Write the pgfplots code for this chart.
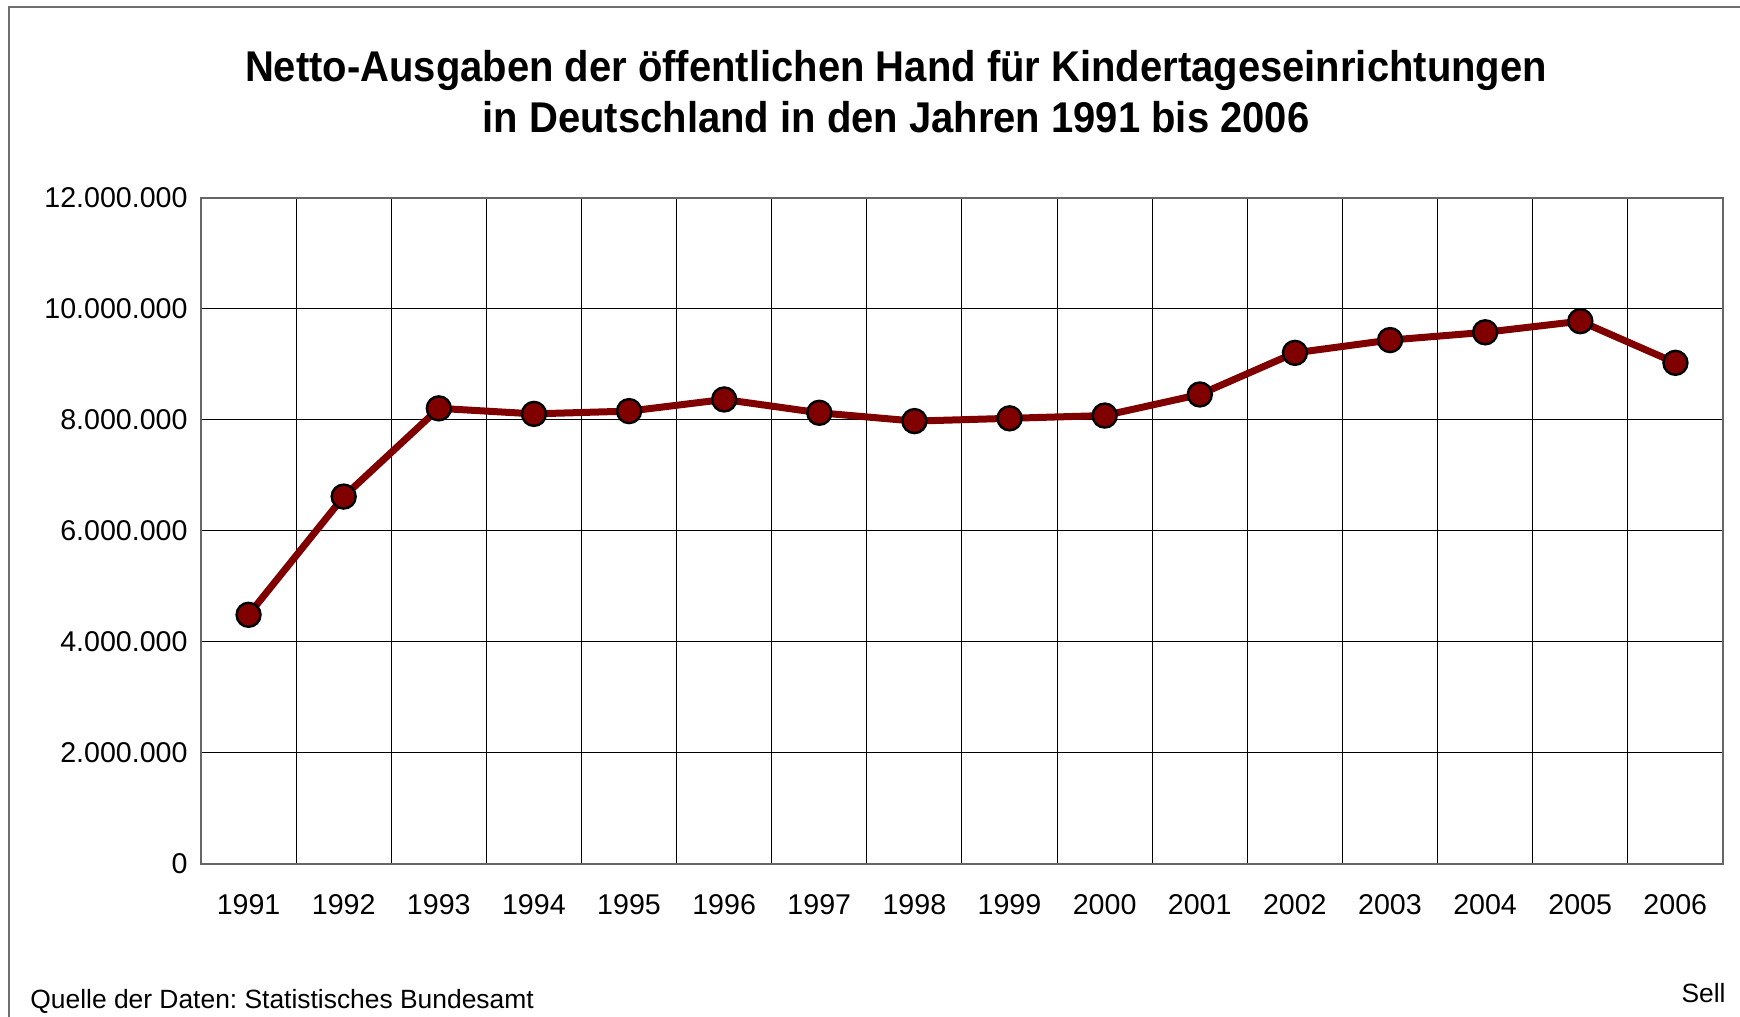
\documentclass[border=0pt]{standalone}
\usepackage{fontspec}
\setmainfont{Liberation Sans}
\usepackage{pgfplots}
\pgfplotsset{compat=1.18}
\definecolor{linered}{HTML}{800000}
\definecolor{framegray}{HTML}{6E6E6E}

\begin{document}
\frenchspacing
\begin{tikzpicture}
  % canvas: 1px of the reference = 0.5pt
  \path[use as bounding box] (0,0) rectangle (870pt,508.5pt);
  \draw[framegray, line width=0.8pt] (4.5pt,0) -- (4.5pt,505pt) -- (870pt,505pt);

  \node[anchor=base, font=\fontsize{21.5pt}{25pt}\selectfont\bfseries]
    at (448pt,467.5pt) {\scalebox{0.93}[1]{Netto-Ausgaben der öffentlichen Hand für Kindertageseinrichtungen}};
  \node[anchor=base, font=\fontsize{21.5pt}{25pt}\selectfont\bfseries]
    at (448pt,442pt) {\scalebox{0.93}[1]{in Deutschland in den Jahren 1991 bis 2006}};

  \begin{axis}[
    at={(100.5pt,76.5pt)},
    anchor=south west,
    scale only axis,
    width=761pt,
    height=333pt,
    xmin=1990.5, xmax=2006.5,
    ymin=0, ymax=12000000,
    xtick={1991,...,2006},
    minor xtick={1991.5,1992.5,...,2005.5},
    ytick={0,2000000,...,12000000},
    major tick length=0pt,
    minor tick length=0pt,
    ymajorgrids=true,
    xminorgrids=true,
    grid style={black, line width=0.5pt},
    minor grid style={black, line width=0.5pt},
    axis line style={gray!80!black, line width=0.8pt},
    scaled y ticks=false,
    /pgf/number format/assume math mode=true,
    tick label style={font=\fontsize{14.3pt}{17pt}\selectfont},
    xticklabel style={/pgf/number format/set thousands separator={}, yshift=-11.9pt},
    yticklabel style={/pgf/number format/.cd, fixed, set thousands separator={.}, /tikz/.cd, xshift=-3.2pt},
    clip=false
  ]
    \addplot[linered, line width=3.5pt, mark=*, mark size=6pt,
      mark options={fill=linered, draw=black, line width=1.2pt}]
      coordinates {
        (1991,4490000) (1992,6620000) (1993,8210000) (1994,8110000)
        (1995,8160000) (1996,8370000) (1997,8130000) (1998,7980000)
        (1999,8030000) (2000,8080000) (2001,8460000) (2002,9210000)
        (2003,9440000) (2004,9580000) (2005,9780000) (2006,9030000)
      };
  \end{axis}

  \node[anchor=base west, inner sep=0pt, font=\fontsize{13.2pt}{16pt}\selectfont]
    at (15pt,4.3pt) {Quelle der Daten: Statistisches Bundesamt};
  \node[anchor=base east, inner sep=0pt, font=\fontsize{13.2pt}{16pt}\selectfont]
    at (863pt,7.3pt) {Sell};
\end{tikzpicture}
\end{document}
